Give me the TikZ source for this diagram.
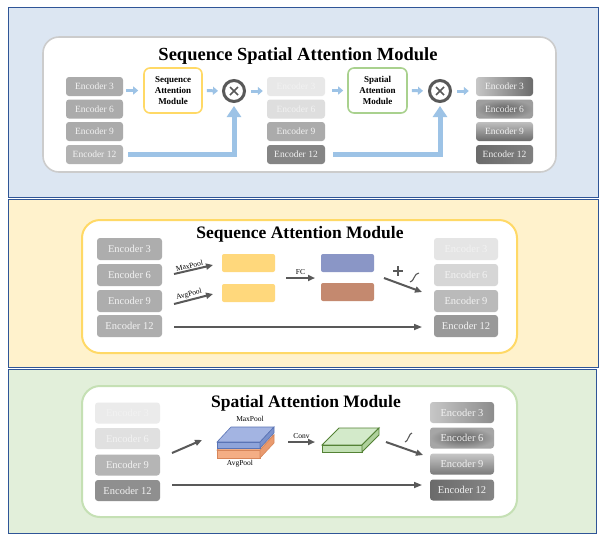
\documentclass[tikz,border=0pt]{standalone}
\usepackage{fontspec}
\setmainfont{Liberation Serif}
\usetikzlibrary{arrows.meta,calc}
\definecolor{frameblue}{HTML}{2F5597}
\definecolor{bgblue}{HTML}{DCE6F2}
\definecolor{bgyellow}{HTML}{FFF2CC}
\definecolor{bggreen}{HTML}{E2EFDA}
\definecolor{ltblue}{HTML}{9DC3E6}
\definecolor{dk}{HTML}{595959}
\definecolor{ylw}{HTML}{FFD966}
\definecolor{ylwbox}{HTML}{FFD87C}
\definecolor{grn}{HTML}{C5E0B4}
\definecolor{grnline}{HTML}{A9D18E}
\definecolor{slate}{HTML}{8A96C6}
\definecolor{brown}{HTML}{C4896F}
\definecolor{sbtop}{HTML}{A3B4E2}
\definecolor{sbfront}{HTML}{8EA4DA}
\definecolor{sbside}{HTML}{7A91CC}
\definecolor{sbline}{HTML}{5A74B5}
\definecolor{sotop}{HTML}{F8C3A0}
\definecolor{sofront}{HTML}{F4AE85}
\definecolor{soside}{HTML}{E99A6E}
\definecolor{soline}{HTML}{D7865A}
\definecolor{sgtop}{HTML}{D3EACA}
\definecolor{sgfront}{HTML}{C2E0B4}
\definecolor{sgside}{HTML}{AFD19C}
\definecolor{sgline}{HTML}{548235}
\tikzset{
  enc/.style={rounded corners=3pt, minimum width=#1, minimum height=19pt, inner sep=0pt,
    text=white!95!black, font=\fontsize{9.5}{9.5}\selectfont},
  encb/.style={rounded corners=3pt, minimum width=#1, minimum height=22pt, inner sep=0pt,
    text=white!95!black, font=\fontsize{10.5}{10.5}\selectfont},
  sarrow/.style={draw=ltblue, line width=3pt, -{Triangle[width=8pt,length=5pt]}},
  barrow/.style={draw=ltblue, line width=5pt, -{Triangle[width=14pt,length=11pt]}},
  darrow/.style={draw=dk, line width=2pt, -{Triangle[width=6pt,length=7pt]}},
  larrow/.style={draw=dk, line width=1.6pt, -{Triangle[width=6pt,length=8pt]}},
  otimes/.style={circle, draw=dk, line width=3pt, fill=white, minimum size=21pt, inner sep=0pt},
  modbox/.style={rounded corners=6pt, line width=1.6pt, fill=white, minimum width=58pt, minimum height=45pt,
    align=center, font=\fontsize{9}{11}\selectfont\bfseries, inner sep=0pt},
  title/.style={font=\fontsize{#1}{#1}\selectfont\bfseries},
  small/.style={font=\fontsize{7.5}{7.5}\selectfont, text=black, inner sep=1pt},
  panel/.style={draw=frameblue, line width=1pt},
}
\begin{document}
\begin{tikzpicture}[x=1pt,y=-1pt]
\useasboundingbox (0,0) rectangle (602,539);
\fill[white] (0,0) rectangle (602,539);
% ---------------- top panel ----------------
\draw[panel, fill=bgblue] (8,7) rectangle (598,197);
\draw[draw=black!20, line width=1.6pt, fill=white, rounded corners=16pt] (43,37) rectangle (556,172);
\node[title=18.5] (t1) at (298,56) {Sequence Spatial Attention Module};
% column 1
\node[enc=57pt, fill=black!33] (a3)  at (94.5,86.5) {Encoder 3};
\node[enc=57pt, fill=black!33] (a6)  at (94.5,109) {Encoder 6};
\node[enc=57pt, fill=black!33] (a9)  at (94.5,131.5) {Encoder 9};
\node[enc=57pt, fill=black!30] (a12) at (94.5,154.5) {Encoder 12};
% column 2
\node[enc=58pt, fill=black!9]  (b3)  at (296,86.5) {Encoder 3};
\node[enc=58pt, fill=black!13] (b6)  at (296,109) {Encoder 6};
\node[enc=58pt, fill=black!33] (b9)  at (296,131.5) {Encoder 9};
\node[enc=58pt, fill=black!48] (b12) at (296,154.5) {Encoder 12};
% column 3
\node[enc=57pt, left color=black!22, right color=black!58] (c3)  at (504.5,86.5) {Encoder 3};
\node[enc=57pt, inner color=black!62, outer color=black!38] (c6)  at (504.5,109) {Encoder 6};
\node[enc=57pt, top color=black!25, bottom color=black!58] (c9)  at (504.5,131.5) {Encoder 9};
\node[enc=57pt, left color=black!58, right color=black!50] (c12) at (504.5,154.5) {Encoder 12};
% modules
\node[modbox, draw=ylw] (sam) at (173,90.5) {Sequence\\Attention\\Module};
\node[modbox, draw=grnline, minimum width=59pt] (spm) at (377.5,90.5) {Spatial\\Attention\\Module};
\node[otimes] (x1) at (234,91) {};
\node[otimes] (x2) at (440,91) {};
\draw[dk, line width=1.6pt] ($(x1.center)+(-4,-4)$) -- ($(x1.center)+(4,4)$);
\draw[dk, line width=1.6pt] ($(x1.center)+(-4,4)$) -- ($(x1.center)+(4,-4)$);
\draw[dk, line width=1.6pt] ($(x2.center)+(-4,-4)$) -- ($(x2.center)+(4,4)$);
\draw[dk, line width=1.6pt] ($(x2.center)+(-4,4)$) -- ($(x2.center)+(4,-4)$);
% small arrows
\draw[sarrow, shorten <=3pt, shorten >=5pt] (a3.east |- sam.center) -- (sam.west);
\draw[sarrow, shorten <=4pt, shorten >=4pt] (sam.east) -- (x1.west);
\draw[sarrow, shorten <=5pt, shorten >=4pt] (x1.east) -- (x1.east -| b3.west);
\draw[sarrow, shorten <=7pt, shorten >=4pt] (b3.east |- spm.center) -- (spm.west);
\draw[sarrow, shorten <=4pt, shorten >=5pt] (spm.east) -- (x2.west);
\draw[sarrow, shorten <=5pt, shorten >=7pt] (x2.east) -- (x2.east -| c3.west);
% big arrows
\draw[barrow, shorten <=5pt, shorten >=3pt] (a12.east) -| (x1.south);
\draw[barrow, shorten <=8pt, shorten >=3pt] (b12.east) -| (x2.south);
% ---------------- middle panel ----------------
\draw[panel, fill=bgyellow] (8,199) rectangle (598,367);
\draw[draw=ylw, line width=2pt, fill=white, rounded corners=18pt] (82,220) rectangle (517,353);
\node[title=17.5] (t2) at (300,234) {Sequence Attention Module};
\node[encb=65pt, fill=black!32] (d3)  at (129.5,249) {Encoder 3};
\node[encb=65pt, fill=black!32] (d6)  at (129.5,275) {Encoder 6};
\node[encb=65pt, fill=black!32] (d9)  at (129.5,301) {Encoder 9};
\node[encb=65pt, fill=black!32] (d12) at (129.5,326) {Encoder 12};
\node[encb=64pt, fill=black!10] (e3)  at (466,249) {Encoder 3};
\node[encb=64pt, fill=black!16] (e6)  at (466,275) {Encoder 6};
\node[encb=64pt, fill=black!27] (e9)  at (466,301) {Encoder 9};
\node[encb=64pt, fill=black!40] (e12) at (466,326) {Encoder 12};
\node[rounded corners=2pt, fill=ylwbox, minimum width=53pt, minimum height=18pt, inner sep=0pt] (y1) at (248.5,263) {};
\node[rounded corners=2pt, fill=ylwbox, minimum width=53pt, minimum height=18pt, inner sep=0pt] (y2) at (248.5,293) {};
\node[rounded corners=2pt, fill=slate, minimum width=53pt, minimum height=18pt, inner sep=0pt] (p1) at (347.5,263) {};
\node[rounded corners=2pt, fill=brown, minimum width=53pt, minimum height=18pt, inner sep=0pt] (p2) at (347.5,292) {};
\coordinate (m1s) at (174,274); \coordinate (m1e) at (213,265);
\coordinate (m2s) at (174,304); \coordinate (m2e) at (213,294);
\draw[darrow] (m1s) -- node[small, sloped, above, pos=0.42] (lmp) {MaxPool} (m1e);
\draw[darrow] (m2s) -- node[small, sloped, above, pos=0.42] (lap) {AvgPool} (m2e);
\coordinate (fcs) at (286,278); \coordinate (fce) at (315,278);
\draw[darrow] (fcs) -- node[small, above=1pt] (lfc) {FC} (fce);
\coordinate (ps) at (384,278); \coordinate (pe) at (422,292);
\draw[darrow] (ps) -- (pe);
\coordinate (plus) at (398,271);
\draw[dk, line width=1.4pt] ($(plus)+(-5,0)$) -- ($(plus)+(5,0)$);
\draw[dk, line width=1.4pt] ($(plus)+(0,-5)$) -- ($(plus)+(0,5)$);
\draw[dk, line width=1.1pt] (410,282) .. controls (414,282) and (414,273) .. (419,273);
\coordinate (ls1) at (174,327); \coordinate (le1) at (422,327);
\draw[larrow] (ls1) -- (le1);
% ---------------- bottom panel ----------------
\draw[panel, fill=bggreen] (8,369) rectangle (596,533);
\draw[draw=grn, line width=2pt, fill=white, rounded corners=18pt] (82,386) rectangle (517,517);
\node[title=17.5] (t3) at (306,403) {Spatial Attention Module};
\node[encb=65pt, minimum height=21pt, fill=black!8]  (f3)  at (127.5,413) {Encoder 3};
\node[encb=65pt, minimum height=21pt, fill=black!12] (f6)  at (127.5,438.5) {Encoder 6};
\node[encb=65pt, minimum height=21pt, fill=black!29] (f9)  at (127.5,465) {Encoder 9};
\node[encb=65pt, minimum height=21pt, fill=black!44] (f12) at (127.5,490.5) {Encoder 12};
\node[encb=64pt, minimum height=21pt, left color=black!22, right color=black!45] (g3)  at (462,412.5) {Encoder 3};
\node[encb=64pt, minimum height=21pt, inner color=black!62, outer color=black!35] (g6)  at (462,438) {Encoder 6};
\node[encb=64pt, minimum height=21pt, top color=black!22, bottom color=black!52] (g9)  at (462,464) {Encoder 9};
\node[encb=64pt, minimum height=21pt, left color=black!58, right color=black!48] (g12) at (462,490) {Encoder 12};
\coordinate (s1) at (172,453); \coordinate (s1e) at (202,440);
\draw[darrow] (s1) -- (s1e);
% orange slab
\filldraw[fill=sotop, draw=soline, line width=0.6pt] (217,450) -- (260,450) -- (274,435) -- (231,435) -- cycle;
\filldraw[fill=sofront, draw=soline, line width=0.6pt] (217,450) rectangle (260,458);
\filldraw[fill=soside, draw=soline, line width=0.6pt] (260,450) -- (274,435) -- (274,443) -- (260,458) -- cycle;
% blue slab
\filldraw[fill=sbtop, draw=sbline, line width=0.6pt] (217,442) -- (260,442) -- (274,427) -- (231,427) -- cycle;
\filldraw[fill=sbfront, draw=sbline, line width=0.6pt] (217,442) rectangle (260,448);
\filldraw[fill=sbside, draw=sbline, line width=0.6pt] (260,442) -- (274,427) -- (274,433) -- (260,448) -- cycle;
\node[small] (lmax) at (250,419) {MaxPool};
\node[small] (lavg) at (240,464) {AvgPool};
\coordinate (cs) at (288,442); \coordinate (ce) at (315,442);
\draw[darrow] (cs) -- node[small, above=1pt] (lconv) {Conv} (ce);
% green slab
\filldraw[fill=sgtop, draw=sgline, line width=0.9pt] (322,445) -- (362,445) -- (379,428) -- (339,428) -- cycle;
\filldraw[fill=sgfront, draw=sgline, line width=0.9pt] (322,445) rectangle (362,452);
\filldraw[fill=sgside, draw=sgline, line width=0.9pt] (362,445) -- (379,428) -- (379,435) -- (362,452) -- cycle;
\draw[dk, line width=1.1pt] (405,442) .. controls (408,442) and (409,433) .. (412,433);
\coordinate (s2) at (386,442); \coordinate (s2e) at (423,455);
\draw[darrow] (s2) -- (s2e);
\coordinate (ls2) at (172,485); \coordinate (le2) at (422,485);
\draw[larrow] (ls2) -- (le2);
\end{tikzpicture}
\end{document}
